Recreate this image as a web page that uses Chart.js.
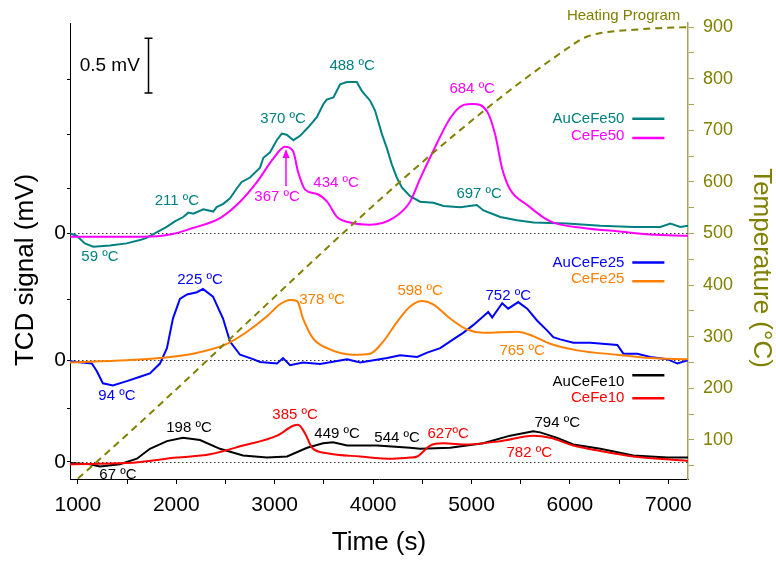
<!DOCTYPE html>
<html>
<head>
<meta charset="utf-8">
<script src="https://cdn.jsdelivr.net/npm/chart.js@4.4.1/dist/chart.umd.min.js"></script>
<style>
  html, body { margin: 0; padding: 0; background: #fff; }
</style>
</head>
<body>
<canvas id="tpr" width="776" height="563"></canvas>
<script>
// ---- data (time in s, signal in mV above each baseline) ----
const heatT = [1000, 6100, 6180, 6300, 6450, 6650, 6900, 7200];
const heatV = [25, 875, 882, 888, 892, 895, 898, 900];

const auCeFe50T = [920, 987, 1071, 1156, 1325, 1495, 1631, 1698, 1800, 1902, 1986, 2071, 2122, 2173, 2275, 2376, 2410, 2478, 2546, 2614, 2665, 2749, 2851, 2885, 2953, 3021, 3072, 3122, 3190, 3258, 3343, 3428, 3495, 3529, 3597, 3665, 3733, 3834, 3885, 3970, 4020, 4088, 4139, 4190, 4241, 4292, 4376, 4478, 4613, 4715, 4885, 5054, 5122, 5292, 5461, 5631, 5970, 6309, 6648, 6919, 7021, 7122, 7200];
const auCeFe50V = [0.00, -0.02, -0.09, -0.12, -0.11, -0.09, -0.06, -0.04, 0.01, 0.06, 0.11, 0.15, 0.19, 0.18, 0.22, 0.20, 0.24, 0.27, 0.32, 0.41, 0.47, 0.51, 0.60, 0.69, 0.74, 0.85, 0.91, 0.90, 0.85, 0.89, 0.97, 1.06, 1.18, 1.22, 1.24, 1.36, 1.38, 1.38, 1.30, 1.21, 1.12, 0.91, 0.78, 0.63, 0.51, 0.42, 0.34, 0.29, 0.28, 0.25, 0.24, 0.26, 0.21, 0.15, 0.12, 0.10, 0.09, 0.07, 0.06, 0.06, 0.09, 0.06, 0.07];

const ceFe50T = [920, 1661, 1936, 2170, 2444, 2648, 2821, 2983, 3105, 3187, 3238, 3309, 3431, 3532, 3634, 3766, 3970, 4204, 4376, 4478, 4610, 4783, 4915, 5017, 5160, 5241, 5312, 5393, 5566, 5800, 6136, 6482, 6817, 7200];
const ceFe50V = [-0.03, -0.03, -0.01, 0.05, 0.14, 0.29, 0.47, 0.68, 0.79, 0.75, 0.56, 0.40, 0.36, 0.29, 0.15, 0.10, 0.08, 0.14, 0.29, 0.50, 0.75, 1.05, 1.17, 1.18, 1.11, 0.90, 0.59, 0.40, 0.26, 0.11, 0.05, 0.02, -0.01, -0.02];

const auCeFe25T = [920, 1142, 1193, 1254, 1356, 1498, 1631, 1732, 1834, 1905, 1966, 2037, 2109, 2210, 2271, 2373, 2475, 2546, 2648, 2780, 2851, 3024, 3085, 3156, 3288, 3461, 3736, 3868, 4143, 4275, 4448, 4549, 4682, 4814, 4915, 5017, 5170, 5210, 5312, 5373, 5475, 5566, 5668, 5770, 5831, 5902, 6034, 6207, 6482, 6543, 6685, 6817, 6990, 7092, 7200];
const auCeFe25V = [-0.01, -0.03, -0.10, -0.21, -0.23, -0.19, -0.15, -0.12, -0.03, 0.11, 0.38, 0.56, 0.60, 0.62, 0.65, 0.58, 0.38, 0.17, 0.05, 0.01, -0.015, -0.03, 0.02, -0.045, -0.02, -0.035, 0.01, -0.02, 0.02, 0.045, 0.03, 0.07, 0.11, 0.19, 0.25, 0.32, 0.44, 0.39, 0.52, 0.47, 0.53, 0.47, 0.36, 0.27, 0.21, 0.19, 0.16, 0.16, 0.14, 0.06, 0.06, 0.03, 0.01, -0.03, 0.00];

const ceFe25T = [920, 1498, 1834, 2170, 2515, 2719, 2922, 3054, 3156, 3227, 3288, 3390, 3532, 3797, 3970, 4102, 4244, 4376, 4498, 4610, 4783, 4956, 5119, 5465, 5627, 5800, 6075, 6482, 6817, 7200];
const ceFe25V = [-0.02, 0.00, 0.02, 0.06, 0.15, 0.26, 0.40, 0.51, 0.55, 0.54, 0.38, 0.20, 0.11, 0.05, 0.06, 0.17, 0.35, 0.49, 0.54, 0.51, 0.38, 0.28, 0.25, 0.26, 0.22, 0.15, 0.09, 0.05, 0.02, 0.01];

const auCeFe10T = [920, 1122, 1224, 1427, 1600, 1732, 1905, 2068, 2241, 2444, 2678, 2922, 3126, 3329, 3492, 3593, 3736, 4041, 4376, 4478, 4783, 5119, 5393, 5627, 5698, 5871, 6034, 6309, 6644, 6990, 7200];
const auCeFe10V = [-0.01, -0.02, -0.04, -0.02, 0.03, 0.12, 0.19, 0.22, 0.20, 0.12, 0.06, 0.04, 0.05, 0.13, 0.17, 0.18, 0.15, 0.15, 0.13, 0.12, 0.13, 0.17, 0.24, 0.28, 0.27, 0.22, 0.16, 0.12, 0.06, 0.04, 0.04];

const ceFe10T = [920, 1498, 2007, 2342, 2678, 3024, 3187, 3237, 3309, 3380, 3532, 3868, 4204, 4376, 4448, 4580, 4712, 4956, 5292, 5627, 5800, 6034, 6309, 6644, 7200];
const ceFe10V = [-0.02, -0.01, 0.04, 0.07, 0.15, 0.24, 0.33, 0.34, 0.26, 0.13, 0.08, 0.05, 0.03, 0.04, 0.05, 0.15, 0.17, 0.16, 0.19, 0.24, 0.22, 0.15, 0.10, 0.05, 0.01];

// baselines of the three stacked groups (mV on the left axis)
const offsets = { g50: 2.082, g25: 0.927, g10: 0 };

const xTicks = [1000, 1500, 2000, 2500, 3000, 3500, 4000, 4500, 5000, 5500, 6000, 6500, 7000];
const tempTicks = [50, 100, 150, 200, 250, 300, 350, 400, 450, 500, 550, 600, 650, 700, 750, 800, 850, 900];
const leftTicks = [0, 0.491, 0.927, 1.482, 2.082, 2.491, 2.982, 3.482];

const TEAL = '#008080', MAGENTA = '#ff00ff', BLUE = '#0000ff', ORANGE = '#ff8000', BLACK = '#000000', RED = '#ff0000', OLIVE = '#808000';
const FONT = "'Liberation Sans', Arial, sans-serif";

// peak labels: text, time, mV above baseline, group, colour
const notes = [
  ['59 ºC', 1224, -0.21, 'g50', TEAL],
  ['211 ºC', 2007, 0.30, 'g50', TEAL],
  ['370 ºC', 3085, 1.04, 'g50', TEAL],
  ['488 ºC', 3787, 1.53, 'g50', TEAL],
  ['367 ºC', 3024, 0.33, 'g50', MAGENTA],
  ['434 ºC', 3624, 0.46, 'g50', MAGENTA],
  ['684 ºC', 5007, 1.32, 'g50', MAGENTA],
  ['697 ºC', 5078, 0.36, 'g50', TEAL],
  ['94 ºC', 1397, -0.32, 'g25', BLUE],
  ['225 ºC', 2241, 0.73, 'g25', BLUE],
  ['378 ºC', 3481, 0.55, 'g25', ORANGE],
  ['598 ºC', 4478, 0.63, 'g25', ORANGE],
  ['752 ºC', 5373, 0.59, 'g25', BLUE],
  ['765 ºC', 5515, 0.09, 'g25', ORANGE],
  ['67 ºC', 1407, -0.12, 'g10', BLACK],
  ['198 ºC', 2129, 0.31, 'g10', BLACK],
  ['385 ºC', 3207, 0.43, 'g10', RED],
  ['449 ºC', 3634, 0.26, 'g10', BLACK],
  ['544 ºC', 4244, 0.22, 'g10', BLACK],
  ['627ºC', 4763, 0.26, 'g10', RED],
  ['794 ºC', 5871, 0.36, 'g10', BLACK],
  ['782 ºC', 5587, 0.08, 'g10', RED]
];

// legend rows: label, colour, group, text level, line level
const legendRows = [
  ['AuCeFe50', TEAL, 'g50', 1.045, 1.045],
  ['CeFe50', MAGENTA, 'g50', 0.89, 0.87],
  ['AuCeFe25', BLUE, 'g25', 0.89, 0.89],
  ['CeFe25', ORANGE, 'g25', 0.74, 0.72],
  ['AuCeFe10', BLACK, 'g10', 0.73, 0.79],
  ['CeFe10', RED, 'g10', 0.58, 0.58]
];

function pts(ts, vs, off) {
  return ts.map((t, i) => ({ x: t, y: vs[i] + off }));
}

function series(label, ts, vs, group, colour, smooth) {
  return {
    label: label,
    data: pts(ts, vs, offsets[group]),
    borderColor: colour,
    borderWidth: 2,
    pointRadius: 0,
    fill: false,
    yAxisID: 'y',
    cubicInterpolationMode: smooth ? 'monotone' : 'default',
    tension: smooth ? 0.4 : 0
  };
}

const overlay = {
  id: 'overlay',
  beforeDatasetsDraw(chart) {
    const { ctx, chartArea, scales } = chart;
    ctx.save();
    ctx.strokeStyle = '#333';
    ctx.lineWidth = 1;
    ctx.setLineDash([1.5, 2.5]);
    Object.values(offsets).forEach(off => {
      const y = Math.round(scales.y.getPixelForValue(off)) + 0.5;
      ctx.beginPath();
      ctx.moveTo(chartArea.left, y);
      ctx.lineTo(chartArea.right, y);
      ctx.stroke();
    });
    ctx.restore();
  },
  afterDatasetsDraw(chart) {
    const { ctx, scales } = chart;
    const X = v => scales.x.getPixelForValue(v);
    const Y = (v, g) => scales.y.getPixelForValue(v + offsets[g]);
    ctx.save();
    ctx.textBaseline = 'middle';

    // peak labels
    ctx.font = '15px ' + FONT;
    ctx.textAlign = 'center';
    notes.forEach(n => {
      ctx.fillStyle = n[4];
      ctx.fillText(n[0], X(n[1]), Y(n[2], n[3]));
    });

    // legend entries
    ctx.textAlign = 'right';
    legendRows.forEach(r => {
      ctx.fillStyle = r[1];
      ctx.fillText(r[0], X(6553), Y(r[3], r[2]));
      ctx.strokeStyle = r[1];
      ctx.lineWidth = 2.5;
      ctx.beginPath();
      ctx.moveTo(X(6634), Y(r[4], r[2]));
      ctx.lineTo(X(6960), Y(r[4], r[2]));
      ctx.stroke();
    });

    // heating program label
    ctx.fillStyle = OLIVE;
    ctx.font = '15px ' + FONT;
    ctx.fillText('Heating Program', X(7122), scales.y2.getPixelForValue(921));

    // 0.5 mV scale bar
    const bx = Math.round(X(1712)) + 0.5;
    const b0 = Y(1.28, 'g50'), b1 = Y(1.78, 'g50');
    ctx.strokeStyle = BLACK;
    ctx.lineWidth = 1.5;
    ctx.beginPath();
    ctx.moveTo(bx, b0); ctx.lineTo(bx, b1);
    ctx.moveTo(bx - 4, b0); ctx.lineTo(bx + 4, b0);
    ctx.moveTo(bx - 4, b1); ctx.lineTo(bx + 4, b1);
    ctx.stroke();
    ctx.fillStyle = BLACK;
    ctx.font = '19px ' + FONT;
    ctx.fillText('0.5 mV', X(1630), Y(1.53, 'g50'));

    // arrow to the 367 ºC peak
    const ax = X(3115), ay0 = Y(0.43, 'g50'), ay1 = Y(0.77, 'g50');
    ctx.strokeStyle = MAGENTA;
    ctx.fillStyle = MAGENTA;
    ctx.lineWidth = 1.5;
    ctx.beginPath();
    ctx.moveTo(ax, ay0); ctx.lineTo(ax, ay1 + 6);
    ctx.stroke();
    ctx.beginPath();
    ctx.moveTo(ax, ay1); ctx.lineTo(ax - 3.5, ay1 + 9); ctx.lineTo(ax + 3.5, ay1 + 9);
    ctx.closePath();
    ctx.fill();
    ctx.restore();
  },
  afterDraw(chart) {
    const { ctx } = chart;
    ctx.save();
    ctx.font = '26px ' + FONT;
    ctx.textAlign = 'center';
    ctx.textBaseline = 'middle';
    ctx.fillStyle = BLACK;
    ctx.translate(26, 270);
    ctx.rotate(-Math.PI / 2);
    ctx.fillText('TCD signal (mV)', 0, 0);
    ctx.restore();
    ctx.save();
    ctx.font = '26px ' + FONT;
    ctx.textAlign = 'center';
    ctx.textBaseline = 'middle';
    ctx.fillStyle = OLIVE;
    ctx.translate(761, 268);
    ctx.rotate(Math.PI / 2);
    ctx.fillText('Temperature (°C)', 0, 0);
    ctx.restore();
  }
};

const datasets = [
  {
    label: 'Heating Program',
    data: pts(heatT, heatV, 0),
    borderColor: OLIVE,
    borderWidth: 2,
    borderDash: [7, 5],
    pointRadius: 0,
    fill: false,
    yAxisID: 'y2',
    cubicInterpolationMode: 'monotone'
  },
  series('CeFe10', ceFe10T, ceFe10V, 'g10', RED, true),
  series('AuCeFe10', auCeFe10T, auCeFe10V, 'g10', BLACK, false),
  series('CeFe25', ceFe25T, ceFe25V, 'g25', ORANGE, true),
  series('AuCeFe25', auCeFe25T, auCeFe25V, 'g25', BLUE, false),
  series('CeFe50', ceFe50T, ceFe50V, 'g50', MAGENTA, true),
  series('AuCeFe50', auCeFe50T, auCeFe50V, 'g50', TEAL, false)
];

new Chart(document.getElementById('tpr'), {
  type: 'line',
  data: { datasets: datasets },
  plugins: [overlay],
  options: {
    responsive: false,
    devicePixelRatio: 1,
    animation: false,
    layout: { padding: { top: 23 } },
    plugins: { legend: { display: false }, tooltip: { enabled: false } },
    scales: {
      x: {
        type: 'linear',
        min: 920,
        max: 7200,
        afterFit(scale) { scale.height = 84; },
        afterBuildTicks(scale) { scale.ticks = xTicks.map(v => ({ value: v })); },
        ticks: {
          autoSkip: false,
          maxRotation: 0,
          padding: 9,
          color: BLACK,
          font: { family: FONT, size: 21 },
          callback: v => (v % 1000 === 0 ? String(v) : '')
        },
        grid: { drawOnChartArea: false, drawTicks: true, tickLength: 5, color: BLACK },
        border: { display: true, color: BLACK, width: 1 },
        title: {
          display: true,
          text: 'Time (s)',
          color: BLACK,
          font: { family: FONT, size: 26 },
          padding: { top: 0, bottom: 5 }
        }
      },
      y: {
        type: 'linear',
        position: 'left',
        min: -0.155,
        max: 4.0,
        afterFit(scale) { scale.width = 70; },
        afterBuildTicks(scale) { scale.ticks = leftTicks.map(v => ({ value: v })); },
        ticks: {
          autoSkip: false,
          padding: 1,
          color: BLACK,
          font: { family: FONT, size: 21 },
          callback: v => (Object.values(offsets).some(o => Math.abs(o - v) < 1e-6) ? '0' : '')
        },
        grid: { drawOnChartArea: false, drawTicks: true, tickLength: 3, color: BLACK },
        border: { display: true, color: BLACK, width: 1 }
      },
      y2: {
        type: 'linear',
        position: 'right',
        min: 24,
        max: 908,
        afterFit(scale) { scale.width = 88; },
        afterBuildTicks(scale) { scale.ticks = tempTicks.map(v => ({ value: v })); },
        ticks: {
          autoSkip: false,
          padding: 9,
          color: OLIVE,
          font: { family: FONT, size: 18 },
          callback: v => (v % 100 === 0 ? String(v) : '')
        },
        grid: { drawOnChartArea: false, drawTicks: true, tickLength: 6, color: '#a8a45c' },
        border: { display: true, color: '#a8a45c', width: 1.5 }
      }
    }
  }
});
</script>
</body>
</html>
